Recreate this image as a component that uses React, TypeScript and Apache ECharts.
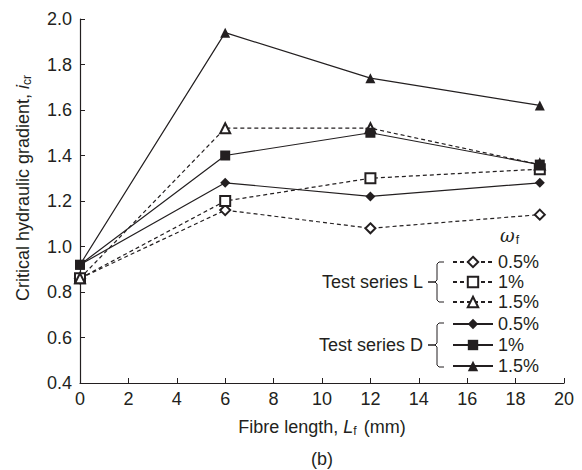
import React, { useEffect, useRef } from "react";
import * as echarts from "echarts";

const xValues = [0, 6, 12, 19];
const seriesNames = ["L 0.5%", "L 1%", "L 1.5%", "D 0.5%", "D 1%", "D 1.5%"];
const L05 = [0.86, 1.16, 1.08, 1.14];
const L1 = [0.86, 1.2, 1.3, 1.34];
const L15 = [0.86, 1.52, 1.52, 1.36];
const D05 = [0.92, 1.28, 1.22, 1.28];
const D1 = [0.92, 1.4, 1.5, 1.36];
const D15 = [0.92, 1.94, 1.74, 1.62];
const seriesValues = [L05, L1, L15, D05, D1, D15];
const symbols = ["emptyDiamond", "emptyRect", "emptyTriangle", "diamond", "rect", "triangle"];

const FONT = "'Liberation Sans', Arial, sans-serif";
const INK = "#231f20";
const FS = 18;

export default function App() {
  const ref = useRef<HTMLDivElement>(null);
  useEffect(() => {
    if (!ref.current) return;
    const chart = echarts.init(ref.current, null, { renderer: "svg" });
    const series = seriesValues.map((vals, i) => {
      const dashed = i < 3;
      return {
        name: seriesNames[i],
        type: "line",
        data: vals.map((v, k) => [xValues[k], v]),
        symbol: symbols[i],
        symbolSize: 10,
        showAllSymbol: true,
        z: dashed ? 2 : 3,
        lineStyle: { color: INK, width: 1.2, type: dashed ? [4, 3] : "solid" },
        itemStyle: { color: INK, borderColor: INK, borderWidth: dashed ? 1 : 0 },
        emphasis: { disabled: true },
      };
    });
    const legendCommon = {
      orient: "vertical",
      left: 452,
      itemWidth: 40,
      itemHeight: 13,
      selectedMode: false,
      textStyle: { fontFamily: FONT, fontSize: FS, color: INK },
      formatter: (name: string) => name.split(" ")[1],
      padding: 0,
    };
    chart.setOption({
      animation: false,
      backgroundColor: "#fff",
      grid: { left: 80, right: 18, top: 19, bottom: 87, containLabel: false },
      legend: [
        { ...legendCommon, top: 253, itemGap: 2, data: seriesNames.slice(0, 3) },
        { ...legendCommon, top: 315, itemGap: 3, data: seriesNames.slice(3) },
      ],
      xAxis: {
        type: "value",
        min: 0,
        max: 20,
        interval: 2,
        name: "{a|Fibre length, }{i|L}{s|f}{a| (mm)}",
        nameLocation: "middle",
        nameGap: 34,
        nameTextStyle: {
          rich: {
            a: { fontFamily: FONT, fontSize: FS, color: INK },
            i: { fontFamily: FONT, fontSize: FS, color: INK, fontStyle: "italic" },
            s: { fontFamily: FONT, fontSize: 12, color: INK, verticalAlign: "bottom", padding: [8, 2, 0, 0] },
          },
        },
        axisLine: { lineStyle: { color: INK, width: 1.2 } },
        axisTick: { inside: true, length: 5, lineStyle: { color: INK } },
        axisLabel: { fontFamily: FONT, fontSize: FS, color: INK, margin: 7 },
        splitLine: { show: false },
      },
      yAxis: {
        type: "value",
        min: 0.4,
        max: 2.0,
        interval: 0.2,
        axisLine: { show: true, lineStyle: { color: INK, width: 1.2 } },
        axisTick: { show: true, inside: true, length: 5, lineStyle: { color: INK } },
        axisLabel: {
          fontFamily: FONT,
          fontSize: FS,
          color: INK,
          margin: 8,
          formatter: (v: number) => v.toFixed(1),
        },
        splitLine: { show: false },
      },
      graphic: [
        {
          type: "text",
          x: 23,
          y: 188,
          rotation: Math.PI / 2,
          style: {
            text: "{a|Critical hydraulic gradient, }{i|i}{s|cr}",
            align: "center",
            verticalAlign: "middle",
            rich: {
              a: { fontFamily: FONT, fontSize: FS, fill: INK },
              i: { fontFamily: FONT, fontSize: FS, fill: INK, fontStyle: "italic" },
              s: { fontFamily: FONT, fontSize: 12, fill: INK, padding: [8, 0, 0, 0] },
            },
          },
        },
        {
          type: "text",
          left: 500,
          top: 226,
          style: {
            text: "{w|ω}{s|f}",
            rich: {
              w: { fontFamily: "'DejaVu Serif', serif", fontSize: 18, fontStyle: "italic", fill: INK },
              s: { fontFamily: FONT, fontSize: 12, fill: INK, padding: [9, 0, 0, 1] },
            },
          },
        },
        {
          type: "text",
          x: 423,
          y: 282,
          style: { text: "Test series L", font: `${FS}px ${FONT}`, fill: INK, align: "right", verticalAlign: "middle" },
        },
        {
          type: "text",
          x: 423,
          y: 345,
          style: { text: "Test series D", font: `${FS}px ${FONT}`, fill: INK, align: "right", verticalAlign: "middle" },
        },
        {
          type: "polyline",
          shape: { points: [[444, 262], [439, 262], [437, 264], [437, 280], [435, 282], [428, 282], [435, 282], [437, 284], [437, 300], [439, 302], [444, 302]] },
          style: { stroke: INK, fill: null, lineWidth: 1 },
        },
        {
          type: "polyline",
          shape: { points: [[444, 323], [439, 323], [437, 325], [437, 343], [435, 345], [428, 345], [435, 345], [437, 347], [437, 365], [439, 367], [444, 367]] },
          style: { stroke: INK, fill: null, lineWidth: 1 },
        },
        {
          type: "text",
          x: 322,
          y: 459,
          style: { text: "(b)", font: `${FS}px ${FONT}`, fill: INK, align: "center", verticalAlign: "middle" },
        },
      ],
      series,
    });
    return () => chart.dispose();
  }, []);
  return <div ref={ref} style={{ width: 582, height: 470, position: "absolute", left: 0, top: 0 }} />;
}
